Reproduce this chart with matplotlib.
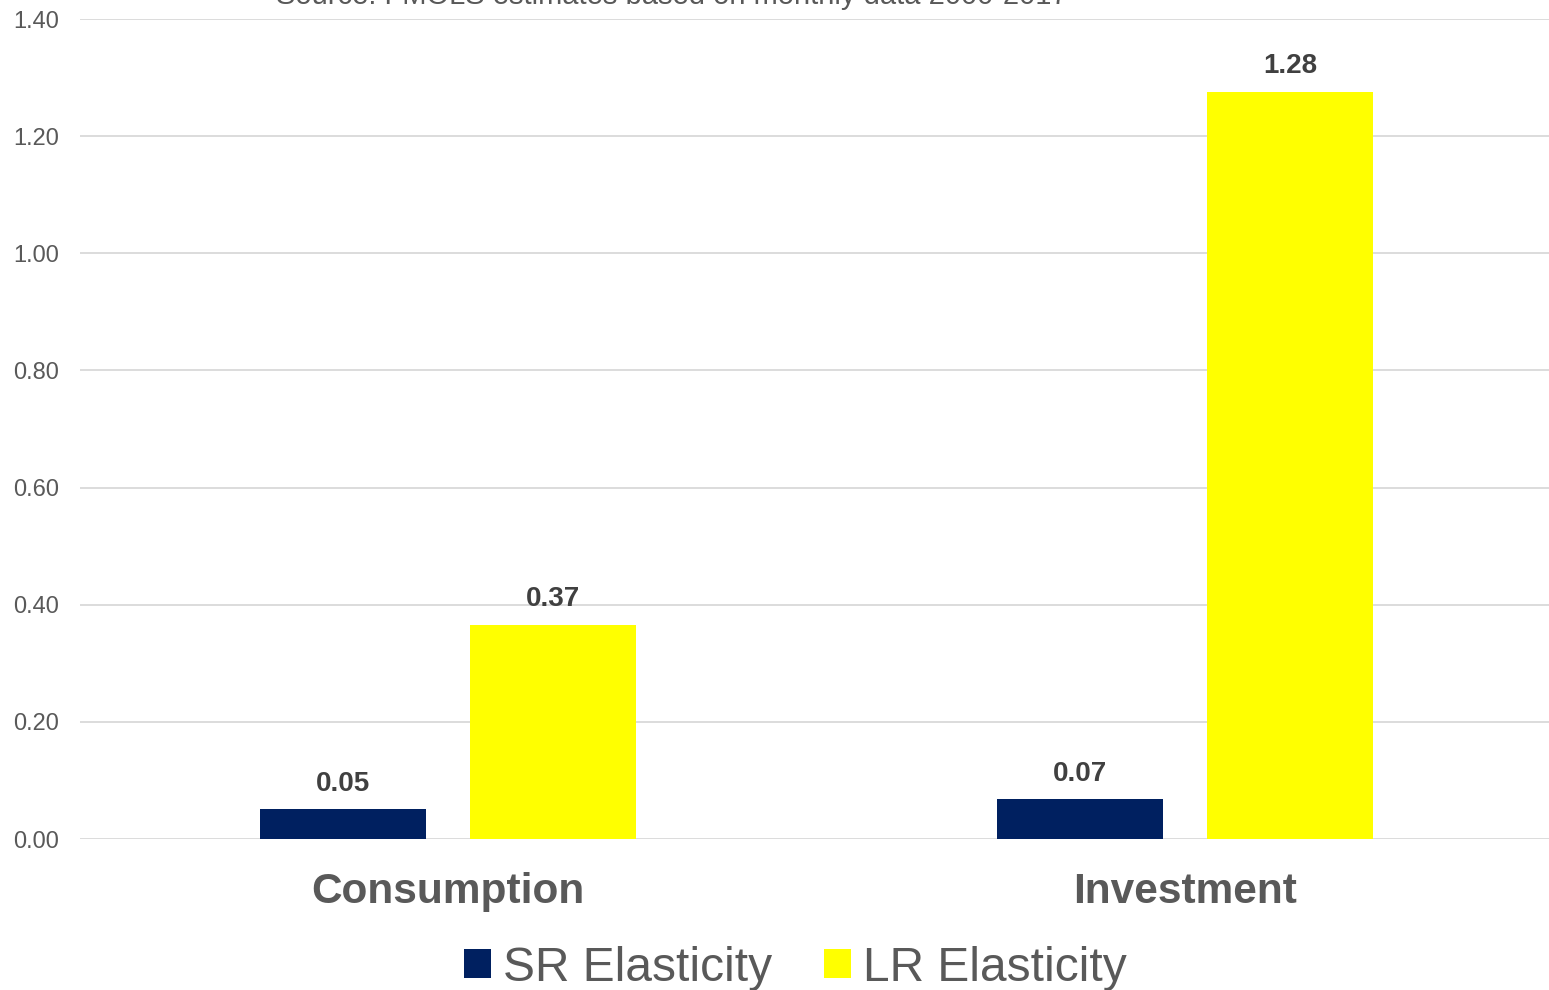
import matplotlib.pyplot as plt
import numpy as np

categories = ['Consumption', 'Investment']
series_names = ['SR Elasticity', 'LR Elasticity']
sr_values = [0.051, 0.068]
lr_values = [0.366, 1.276]
y_ticks = [0.0, 0.2, 0.4, 0.6, 0.8, 1.0, 1.2, 1.4]
source_note = 'Source: FMOLS estimates based on monthly data 2000-2017'

navy = '#002060'
yellow = '#FFFF00'
grey = '#595959'

plt.rcParams['font.family'] = ['Liberation Sans', 'DejaVu Sans']

fig = plt.figure(figsize=(15.49, 9.9), dpi=100)
ax = fig.add_axes([79.5 / 1549, 151 / 990, 1474 / 1549, 820 / 990])

x = np.arange(len(categories))
width = 0.225
offset = 0.1425

bars_sr = ax.bar(x - offset, sr_values, width, color=navy, label=series_names[0], zorder=3)
bars_lr = ax.bar(x + offset, lr_values, width, color=yellow, label=series_names[1], zorder=3)

for bars in (bars_sr, bars_lr):
    for b in bars:
        h = b.get_height()
        ax.annotate(f'{h:.2f}', (b.get_x() + b.get_width() / 2, h),
                    xytext=(0, 9), textcoords='offset points',
                    ha='center', va='bottom', fontsize=20, fontweight='bold',
                    color='#404040')

ax.set_xlim(-0.5, 1.5)
ax.set_ylim(0, 1.4)
ax.set_yticks(y_ticks)
ax.set_yticklabels([f'{t:.2f}' for t in y_ticks])
ax.set_xticks(x)
ax.set_xticklabels(categories, fontsize=30.5, fontweight='bold', color=grey)
ax.tick_params(axis='y', length=0, pad=15, labelsize=17, labelcolor=grey)
ax.tick_params(axis='x', length=0, pad=24)
ax.yaxis.grid(True, color='#D9D9D9', linewidth=1.3, zorder=0)
ax.set_axisbelow(True)
for s in ax.spines.values():
    s.set_visible(False)

# note sits mostly above the figure edge, as in the original export
fig.text(276 / 1549, 1 - 4 / 990, source_note, fontsize=21, color=grey,
         ha='left', va='baseline')

fig.legend(loc='center', bbox_to_anchor=(0.5135, 0.022), ncol=2, frameon=False,
           fontsize=34.5, labelcolor=grey, handlelength=0.55, handleheight=0.55,
           handletextpad=0.25, columnspacing=1.1, borderpad=0)

fig.savefig('out.png', dpi=100)
